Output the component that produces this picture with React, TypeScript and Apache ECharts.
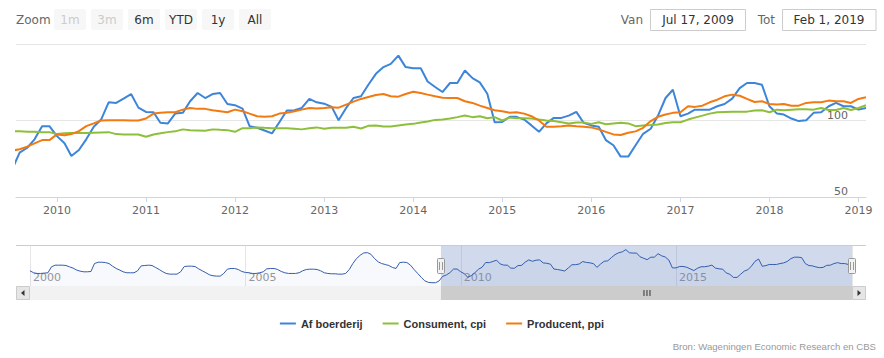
import React, { useEffect, useRef } from 'react';
import * as echarts from 'echarts';

// ---------- data (monthly, first of month) ----------
const blueStart = [2000, 0]; // Jan 2000
const mainStart = [2009, 6]; // Jul 2009
const viewFromDate = [2009, 6, 17];
const viewToDate = [2019, 1, 1];
const navFromDate = [2000, 0, 1];
const navToDate = [2019, 1, 1];

const afBoerderij = [
  92.1, 87.4, 85.8, 85.8, 86.6, 87.4, 101.5, 105.5, 105.5, 105.5, 104.7, 101.5,
  98.4, 93.7, 91.3, 89.7, 89.7, 90.5, 109.4, 112.5, 112.5, 111.7, 109.4, 103.1,
  97.6, 93.7, 89.7, 87.4, 87.4, 87.4, 92.1, 103.9, 104.7, 105.5, 104.7, 100.0,
  95.2, 89.7, 85.8, 84.2, 84.2, 84.2, 89.7, 102.3, 103.1, 103.1, 102.3, 96.8,
  92.1, 87.4, 82.7, 80.3, 79.5, 79.5, 85.8, 96.0, 97.6, 97.6, 95.2, 90.5,
  88.2, 87.4, 85.8, 85.8, 87.4, 89.7, 96.8, 97.6, 97.6, 95.2, 90.5, 87.4,
  85.8, 85.8, 85.8, 87.4, 92.1, 95.2, 96.0, 96.0, 95.2, 92.1, 87.4, 85.8,
  85.0, 85.0, 84.2, 84.2, 85.8, 95.2, 109.4, 121.2, 129.0, 134.5, 135.3, 131.4,
  121.2, 113.3, 109.4, 107.0, 104.7, 100.0, 97.6, 111.7, 112.5, 111.7, 105.5, 95.2,
  85.8, 76.4, 68.5, 64.6, 63.8, 63.8, 68.0, 79.0, 82.2, 87.7, 96.3, 96.3,
  89.8, 85.1, 76.8, 80.7, 87.7, 95.9, 100.6, 111.9, 111.5, 114.3, 117.3, 108.4,
  105.6, 105.4, 98.5, 98.1, 104.5, 105.0, 112.6, 118.0, 114.7, 117.3, 118.0, 110.8,
  110.0, 107.8, 96.3, 95.2, 93.5, 91.6, 98.9, 106.5, 106.7, 108.2, 114.1, 111.9,
  111.0, 108.9, 100.2, 108.2, 114.7, 115.8, 123.4, 130.5, 134.9, 137.0, 142.4, 134.9,
  134.2, 134.2, 125.5, 121.9, 118.6, 124.5, 124.5, 132.7, 127.7, 124.9, 117.5, 98.9,
  99.1, 102.4, 102.4, 100.6, 96.8, 92.6, 98.1, 101.7, 101.7, 103.2, 105.6, 98.5,
  96.8, 95.9, 87.2, 83.8, 76.4, 76.4, 83.8, 91.3, 94.6, 103.2, 114.7, 120.1,
  102.8, 104.5, 107.1, 107.1, 107.1, 109.3, 110.8, 114.3, 121.2, 124.5, 124.5, 123.4,
  109.3, 104.5, 103.9, 101.3, 99.6, 100.2, 105.0, 105.4, 109.3, 111.5, 109.3, 109.3,
  107.1, 108.2,
];

const consumentCpi = [
  93.1, 92.9, 92.6, 92.6, 92.4, 92.4,
  91.1, 91.6, 91.8, 91.8, 91.8, 92.0, 92.2, 92.4, 91.1, 90.9, 90.9, 90.9,
  89.4, 90.9, 91.6, 92.4, 92.9, 94.2, 93.7, 93.5, 93.3, 94.2, 93.9, 93.7,
  92.6, 95.0, 95.0, 95.5, 95.2, 95.0, 95.0, 95.0, 94.6, 94.2, 95.0, 95.5,
  94.6, 95.2, 95.2, 95.2, 95.9, 94.8, 96.5, 96.8, 96.1, 96.1, 96.8, 97.4,
  97.8, 98.7, 99.4, 100.4, 100.6, 101.3, 102.2, 103.2, 102.2, 102.8, 101.5, 102.2,
  100.0, 101.9, 101.5, 101.5, 101.3, 100.6, 100.0, 99.6, 98.9, 98.1, 98.7, 98.7,
  97.8, 98.9, 97.6, 98.1, 98.5, 98.1, 96.3, 96.8, 97.0, 97.4, 98.3, 98.9,
  98.9, 100.6, 101.9, 103.2, 104.5, 105.4, 105.6, 105.8, 105.8, 105.8, 106.5, 106.7,
  105.4, 107.1, 106.7, 107.1, 107.4, 107.4, 107.1, 108.2, 106.9, 106.9, 108.2, 106.9,
  108.2, 110.0,
];

const producentPpi = [
  80.3, 81.2, 82.9, 85.1, 87.2, 87.2,
  90.9, 90.3, 91.1, 93.1, 96.3, 98.1, 100.0, 100.2, 100.2, 100.2, 100.0, 100.0,
  101.3, 104.5, 105.0, 105.4, 105.4, 107.1, 108.2, 107.6, 107.6, 106.7, 106.1, 105.4,
  107.1, 106.1, 104.5, 102.8, 102.4, 102.8, 104.5, 105.0, 106.1, 107.1, 108.2, 107.8,
  108.2, 108.7, 108.4, 110.4, 112.3, 114.1, 115.4, 116.7, 117.3, 115.8, 115.6, 117.3,
  118.8, 118.0, 116.9, 115.8, 114.9, 114.7, 114.7, 112.6, 111.5, 109.7, 108.2, 106.7,
  106.1, 105.0, 105.4, 104.5, 102.8, 100.0, 95.9, 95.9, 96.3, 96.8, 96.3, 95.9,
  95.5, 94.2, 92.6, 90.9, 90.5, 92.0, 92.9, 95.2, 99.6, 102.4, 103.9, 105.0,
  105.4, 109.3, 108.9, 109.7, 111.9, 113.6, 115.8, 116.9, 116.2, 114.1, 112.1, 112.6,
  110.8, 110.4, 110.8, 109.7, 109.7, 111.5, 111.9, 111.9, 113.0, 112.6, 112.6, 111.5,
  114.1, 115.2,
];

const seriesNames = ['Af boerderij', 'Consument, cpi', 'Producent, ppi'];
const seriesColors = ['#3d85d8', '#8dbf3a', '#f27a10'];
const yMin = 50;
const yMax = 150;
const yStep = 50;
const navYMin = 56;
const navYMax = 151;
const rangeButtons = ['1m', '3m', '6m', 'YTD', '1y', 'All'];
const disabledButtons = ['1m', '3m'];
const fromLabel = 'Jul 17, 2009';
const toLabel = 'Feb 1, 2019';
const creditText = 'Bron: Wageningen Economic Research en CBS';

const YEAR = 365 * 24 * 3600 * 1000;
const monthTs = (start: number[], i: number) => new Date(start[0], start[1] + i, 1).getTime();
const dateTs = (d: number[]) => new Date(d[0], d[1], d[2]).getTime();
const yearLabel = (v: number) => String(new Date(v).getFullYear());

const FONT = 'DejaVu Sans';

function txt(x: number, y: number, text: string, o: any = {}) {
  return {
    type: 'text',
    x,
    y,
    silent: true,
    z: 10,
    style: {
      text,
      fill: o.fill || '#333',
      fontSize: o.size || 12,
      fontFamily: o.family || FONT,
      fontWeight: o.weight || 'normal',
      align: o.align || 'left',
      verticalAlign: 'middle',
    },
  };
}

export default function App() {
  const ref = useRef<HTMLDivElement>(null);

  useEffect(() => {
    document.body.style.margin = '0';
    if (!ref.current) return;
    const chart = echarts.init(ref.current, undefined, { renderer: 'svg' });

    const viewFrom = dateTs(viewFromDate);
    const viewTo = dateTs(viewToDate);
    const blueData = afBoerderij.map((v, i) => [monthTs(blueStart, i), v]);
    const cpiData = consumentCpi.map((v, i) => [monthTs(mainStart, i), v]);
    const ppiData = producentPpi.map((v, i) => [monthTs(mainStart, i), v]);
    const mainData = [blueData, cpiData, ppiData];

    const option: any = {
      animation: false,
      textStyle: { fontFamily: FONT },
      grid: [
        { left: 16, right: 18, top: 44, height: 153 },
        { left: 30, right: 32, top: 246, height: 40 },
      ],
      legend: {
        data: seriesNames,
        top: 313,
        left: 'center',
        icon: 'rect',
        itemWidth: 16,
        itemHeight: 2,
        itemGap: 20,
        selectedMode: false,
        textStyle: { fontFamily: 'Liberation Sans', fontWeight: 'bold', fontSize: 11, color: '#333' },
      },
      xAxis: [
        {
          type: 'time',
          gridIndex: 0,
          min: viewFrom,
          max: viewTo,
          minInterval: YEAR,
          maxInterval: YEAR,
          splitNumber: 10,
          axisLine: { show: true, lineStyle: { color: '#ccd6eb', width: 1 } },
          axisTick: { show: true, length: 5, lineStyle: { color: '#ccd6eb' } },
          axisLabel: { color: '#666', fontSize: 11, margin: 8, formatter: yearLabel, hideOverlap: false },
          splitLine: { show: false },
        },
        {
          type: 'time',
          gridIndex: 1,
          min: dateTs(navFromDate),
          max: dateTs(navToDate),
          minInterval: 5 * YEAR,
          maxInterval: 5 * YEAR,
          axisLine: { show: false },
          axisTick: { show: false },
          axisLabel: {
            inside: true,
            align: 'left',
            padding: [0, 0, 0, 3],
            margin: 3,
            color: '#999',
            fontSize: 11,
            formatter: yearLabel,
            showMaxLabel: false,
          },
          splitLine: { show: true, lineStyle: { color: '#e6e6e6' } },
        },
      ],
      yAxis: [
        {
          type: 'value',
          gridIndex: 0,
          min: yMin,
          max: yMax,
          interval: yStep,
          position: 'right',
          axisLine: { show: false },
          axisTick: { show: false },
          axisLabel: {
            inside: true,
            margin: 18,
            color: '#666',
            fontSize: 11,
            verticalAlign: 'bottom',
            formatter: (v: number) => (v === yMax ? '' : String(v)),
          },
          splitLine: { show: true, lineStyle: { color: '#e6e6e6' } },
        },
        { type: 'value', gridIndex: 1, min: navYMin, max: navYMax, show: false },
      ],
      series: [
        ...seriesNames.map((name, i) => ({
          name,
          type: 'line',
          xAxisIndex: 0,
          yAxisIndex: 0,
          data: mainData[i],
          symbol: 'none',
          showSymbol: false,
          clip: true,
          lineStyle: { width: 2, color: seriesColors[i] },
          itemStyle: { color: seriesColors[i] },
          z: 3 + i,
        })),
        {
          name: 'navigator',
          type: 'line',
          xAxisIndex: 1,
          yAxisIndex: 1,
          data: blueData,
          symbol: 'none',
          showSymbol: false,
          lineStyle: { width: 1, color: '#335cad' },
          areaStyle: { color: 'rgba(51,92,173,0.05)', origin: 'start' },
          silent: true,
          markArea: {
            silent: true,
            itemStyle: { color: 'rgba(102,133,194,0.3)' },
            data: [[{ xAxis: viewFrom }, { xAxis: viewTo }]],
          },
        },
      ],
    };

    chart.setOption(option);

    const hx0 = chart.convertToPixel({ xAxisIndex: 1 }, viewFrom) as number;
    const hx1 = chart.convertToPixel({ xAxisIndex: 1 }, viewTo) as number;

    const graphics: any[] = [];
    // range selector
    graphics.push(txt(16, 20, 'Zoom', { fill: '#666' }));
    rangeButtons.forEach((b, i) => {
      const bx = 54 + i * 37;
      graphics.push({
        type: 'rect',
        silent: true,
        shape: { x: bx, y: 9, width: 32, height: 21, r: 2 },
        style: { fill: '#f7f7f7' },
      });
      graphics.push(
        txt(bx + 16, 20, b, { fill: disabledButtons.includes(b) ? '#cccccc' : '#333333', align: 'center' })
      );
    });
    graphics.push(txt(643, 20, 'Van', { fill: '#666', align: 'right' }));
    graphics.push({
      type: 'rect',
      silent: true,
      shape: { x: 650.5, y: 9.5, width: 95, height: 21 },
      style: { fill: '#fff', stroke: '#cccccc', lineWidth: 1 },
    });
    graphics.push(txt(698, 20, fromLabel, { align: 'center' }));
    graphics.push(txt(775, 20, 'Tot', { fill: '#666', align: 'right' }));
    graphics.push({
      type: 'rect',
      silent: true,
      shape: { x: 782.5, y: 9.5, width: 93.5, height: 21 },
      style: { fill: '#fff', stroke: '#cccccc', lineWidth: 1 },
    });
    graphics.push(txt(829, 20, toLabel, { align: 'center' }));

    // navigator outline
    graphics.push({
      type: 'line',
      silent: true,
      shape: { x1: 16, y1: 245.5, x2: 866, y2: 245.5 },
      style: { stroke: '#cccccc', lineWidth: 1 },
    });

    // scrollbar
    const sy = 286;
    const sh = 14;
    graphics.push({
      type: 'rect',
      silent: true,
      shape: { x: 16, y: sy, width: 850, height: sh },
      style: { fill: '#f2f2f2' },
    });
    graphics.push({
      type: 'rect',
      silent: true,
      shape: { x: hx0, y: sy, width: hx1 - hx0, height: sh },
      style: { fill: '#cccccc' },
    });
    const rc = (hx0 + hx1) / 2;
    [-3, 0, 3].forEach((d) => {
      graphics.push({
        type: 'line',
        silent: true,
        shape: { x1: rc + d + 0.5, y1: sy + 4, x2: rc + d + 0.5, y2: sy + 10 },
        style: { stroke: '#333', lineWidth: 1 },
      });
    });
    [16, 852].forEach((bx, i) => {
      graphics.push({
        type: 'rect',
        silent: true,
        shape: { x: bx + 0.5, y: sy + 0.5, width: 13, height: 13 },
        style: { fill: '#e6e6e6', stroke: '#cccccc', lineWidth: 1 },
      });
      const cx = bx + 7;
      const cy = sy + 7;
      const pts = i === 0 ? [[cx - 2, cy], [cx + 1.5, cy - 3], [cx + 1.5, cy + 3]] : [[cx + 2, cy], [cx - 1.5, cy - 3], [cx - 1.5, cy + 3]];
      graphics.push({ type: 'polygon', silent: true, shape: { points: pts }, style: { fill: '#333' } });
    });

    // navigator handles
    [hx0, hx1].forEach((hx) => {
      const x = Math.round(hx);
      graphics.push({
        type: 'rect',
        silent: true,
        z: 20,
        shape: { x: x - 3.5, y: 258.5, width: 7, height: 15, r: 1 },
        style: { fill: '#f2f2f2', stroke: '#999999', lineWidth: 1 },
      });
      [-1, 1].forEach((d) => {
        graphics.push({
          type: 'line',
          silent: true,
          z: 21,
          shape: { x1: x + d * 1.5, y1: 262, x2: x + d * 1.5, y2: 270 },
          style: { stroke: '#999999', lineWidth: 1 },
        });
      });
    });

    // credits
    graphics.push(txt(876, 346, creditText, { fill: '#999', size: 9.6, family: 'Liberation Sans', align: 'right' }));

    chart.setOption({ graphic: graphics });

    return () => chart.dispose();
  }, []);

  return (
    <div
      ref={ref}
      style={{ position: 'absolute', left: 0, top: 0, width: 884, height: 358, background: '#fff' }}
    />
  );
}
